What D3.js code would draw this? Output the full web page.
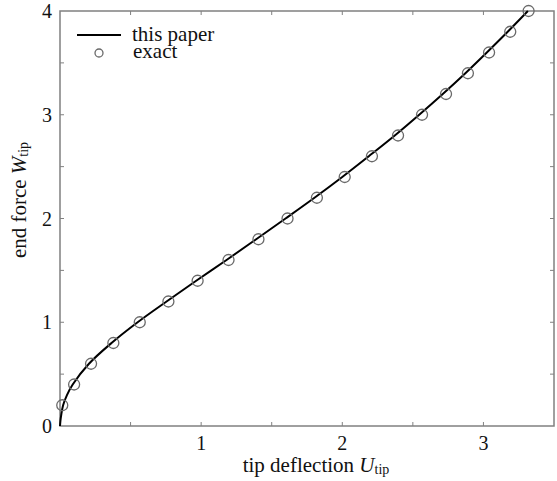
<!DOCTYPE html>
<html>
<head>
<meta charset="utf-8">
<script src="https://cdn.jsdelivr.net/npm/d3@7"></script>
<style>
  body { margin: 0; background: #fff; }
  svg text { font-family: "Liberation Serif", "DejaVu Serif", serif; fill: #111; }
</style>
</head>
<body>
<svg id="chart" width="557" height="481"></svg>
<script>
// "this paper" curve: tip deflection vs end force
const lineU = [0, 0.003, 0.008, 0.022, 0.05, 0.09, 0.205, 0.365, 0.55, 0.755, 0.965, 1.18, 1.39, 1.598, 1.803, 2.0, 2.188, 2.372, 2.545, 2.712, 2.872, 3.024, 3.172, 3.315];
const lineW = [0, 0.05, 0.1, 0.2, 0.3, 0.4, 0.6, 0.8, 1.0, 1.2, 1.4, 1.6, 1.8, 2.0, 2.2, 2.4, 2.6, 2.8, 3.0, 3.2, 3.4, 3.6, 3.8, 4.0];

// "exact" points
const exactU = [0.016, 0.10, 0.22, 0.378, 0.565, 0.768, 0.975, 1.194, 1.406, 1.612, 1.82, 2.017, 2.21, 2.395, 2.565, 2.735, 2.89, 3.04, 3.19, 3.32];
const exactW = [0.2, 0.4, 0.6, 0.8, 1.0, 1.2, 1.4, 1.6, 1.8, 2.0, 2.2, 2.4, 2.6, 2.8, 3.0, 3.2, 3.4, 3.6, 3.8, 4.0];

const xTicks = [1, 2, 3];
const yTicks = [0, 1, 2, 3, 4];
const minorX = [0.5, 1, 1.5, 2, 2.5, 3];
const minorY = [0.5, 1, 1.5, 2, 2.5, 3, 3.5];

const plot = { left: 60, right: 554, top: 11, bottom: 426 };
const axisColor = "#808080";

const svg = d3.select("#chart");

const x = d3.scaleLinear().domain([0, 3.5]).range([plot.left, plot.right]);
const y = d3.scaleLinear().domain([0, 4]).range([plot.bottom, plot.top]);

// frame
svg.append("rect")
    .attr("x", plot.left).attr("y", plot.top)
    .attr("width", plot.right - plot.left).attr("height", plot.bottom - plot.top)
    .attr("fill", "none")
    .attr("stroke", axisColor)
    .attr("stroke-width", 1.5);

// inward ticks on all four sides
const tickLen = 4;
svg.append("g").selectAll("line").data(minorX).join("line")
    .attr("x1", d => x(d)).attr("x2", d => x(d))
    .attr("y1", plot.bottom).attr("y2", plot.bottom - tickLen)
    .attr("stroke", axisColor);
svg.append("g").selectAll("line").data(minorX).join("line")
    .attr("x1", d => x(d)).attr("x2", d => x(d))
    .attr("y1", plot.top).attr("y2", plot.top + tickLen)
    .attr("stroke", axisColor);
svg.append("g").selectAll("line").data(minorY).join("line")
    .attr("x1", plot.left).attr("x2", plot.left + tickLen)
    .attr("y1", d => y(d)).attr("y2", d => y(d))
    .attr("stroke", axisColor);
svg.append("g").selectAll("line").data(minorY).join("line")
    .attr("x1", plot.right).attr("x2", plot.right - tickLen)
    .attr("y1", d => y(d)).attr("y2", d => y(d))
    .attr("stroke", axisColor);

// tick labels
svg.append("g").selectAll("text").data(xTicks).join("text")
    .attr("x", d => x(d))
    .attr("y", plot.bottom + 24)
    .attr("text-anchor", "middle")
    .style("font-size", "20px")
    .text(d => d);

svg.append("g").selectAll("text").data(yTicks).join("text")
    .attr("x", plot.left - 8)
    .attr("y", d => y(d) + 7)
    .attr("text-anchor", "end")
    .style("font-size", "20px")
    .text(d => d);

// axis titles
const xl = svg.append("text")
    .attr("x", 316)
    .attr("y", 472)
    .attr("text-anchor", "middle")
    .style("font-size", "21px");
xl.append("tspan").text("tip deflection ");
xl.append("tspan").style("font-style", "italic").text("U");
xl.append("tspan").style("font-size", "14px").attr("dy", 2).text("tip");

const yl = svg.append("text")
    .attr("transform", "translate(26,200) rotate(-90)")
    .attr("text-anchor", "middle")
    .style("font-size", "21px");
yl.append("tspan").text("end force ");
yl.append("tspan").style("font-style", "italic").text("W");
yl.append("tspan").style("font-size", "14px").attr("dy", 2).text("tip");

// curve
const pts = lineU.map((u, i) => [u, lineW[i]]);
svg.append("path")
    .datum(pts)
    .attr("fill", "none")
    .attr("stroke", "#000")
    .attr("stroke-width", 2)
    .attr("d", d3.line().x(d => x(d[0])).y(d => y(d[1])).curve(d3.curveCatmullRom));

// exact circles
svg.append("g").selectAll("circle").data(exactU.map((u, i) => [u, exactW[i]])).join("circle")
    .attr("cx", d => x(d[0]))
    .attr("cy", d => y(d[1]))
    .attr("r", 5.5)
    .attr("fill", "none")
    .attr("stroke", "#6a6a6a")
    .attr("stroke-width", 1.3);

// legend
const lg = svg.append("g");
lg.append("line")
    .attr("x1", 77).attr("x2", 121)
    .attr("y1", 35).attr("y2", 35)
    .attr("stroke", "#000").attr("stroke-width", 2);
lg.append("text").attr("x", 132).attr("y", 41)
    .style("font-size", "21px").text("this paper");
lg.append("circle")
    .attr("cx", 99).attr("cy", 53).attr("r", 4)
    .attr("fill", "none").attr("stroke", "#6a6a6a").attr("stroke-width", 1.3);
lg.append("text").attr("x", 133).attr("y", 58)
    .style("font-size", "21px").text("exact");
</script>
</body>
</html>
